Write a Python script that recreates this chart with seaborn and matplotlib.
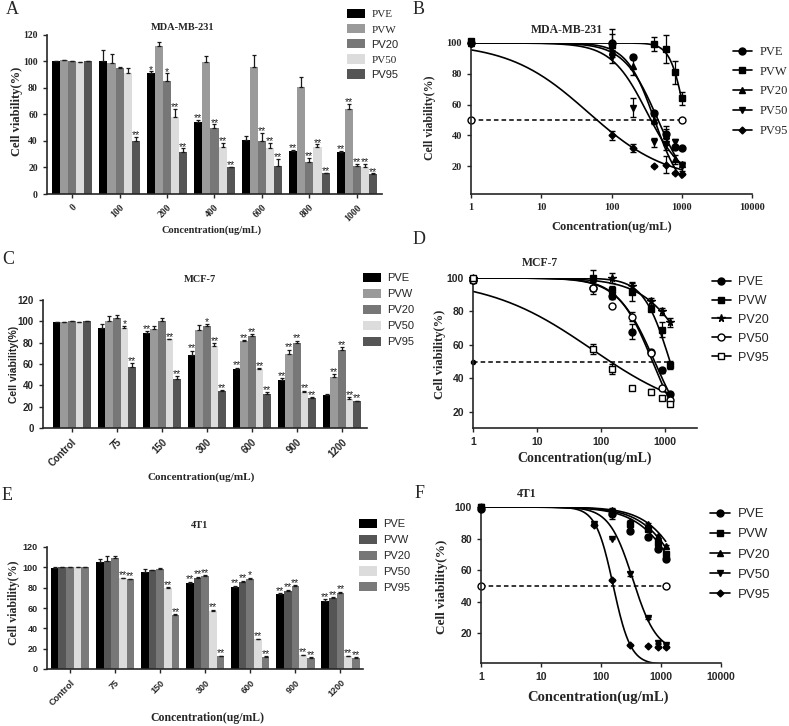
import numpy as np
import pandas as pd
import matplotlib
matplotlib.use("Agg")
import matplotlib.pyplot as plt
import seaborn as sns
from matplotlib.patches import Patch
from matplotlib.lines import Line2D
from matplotlib.ticker import NullLocator

SERIF = "Liberation Serif"
SANS = "Liberation Sans"

series = ["PVE", "PVW", "PV20", "PV50", "PV95"]

# ---------------- MDA-MB-231 (A, B) ----------------
mda_labels = ["0", "100", "200", "400", "600", "800", "1000"]
mda_dose = [1, 100, 200, 400, 600, 800, 1000]
mda_pve = [100, 100, 91, 54.5, 41, 32.5, 32]
mda_pvw = [101, 99, 112, 99.5, 96, 81, 64]
mda_pv20 = [100, 95, 85, 50, 40, 24.5, 21.5]
mda_pv50 = [99.5, 91, 58, 35.5, 34.5, 35.5, 20]
mda_pv95 = [100, 40, 32, 20, 21, 15.5, 15]
mda_pve_err = [0.5, 9, 1.5, 1.5, 3, 1, 0.3]
mda_pvw_err = [0.5, 7, 3, 4.5, 9, 7.5, 4]
mda_pv20_err = [0.3, 0.5, 6, 2.5, 6, 3, 1]
mda_pv50_err = [0.3, 4, 6, 3, 4, 2, 3]
mda_pv95_err = [0.3, 3, 2.5, 0.5, 5.5, 0.5, 0.5]
mda_pve_sig = ["", "", "*", "**", "", "**", "**"]
mda_pvw_sig = ["", "", "", "", "", "", "**"]
mda_pv20_sig = ["", "", "*", "**", "**", "**", "**"]
mda_pv50_sig = ["", "", "**", "**", "**", "**", "**"]
mda_pv95_sig = ["", "**", "**", "**", "**", "**", "**"]
# 4PL fit: top, bottom, IC50, hill
mda_fit_top = [100, 100, 100, 100, 100]
mda_fit_bottom = [0, 0, 0, 10, 10]
mda_fit_ic50 = [460, 1140, 410, 320, 46.5]
mda_fit_hill = [1.8, 4.1, 2.2, 1.7, 0.77]

# ---------------- MCF-7 (C, D) ----------------
mcf_labels = ["Control", "75", "150", "300", "600", "900", "1200"]
mcf_dose = [1, 75, 150, 300, 600, 900, 1200]
mcf_pve = [99, 94, 89, 68, 55.5, 45, 31]
mcf_pvw = [99, 100, 93, 91.5, 81.5, 69, 48]
mcf_pv20 = [100, 103, 100, 95.5, 86, 80, 73.5]
mcf_pv50 = [99, 94, 83, 77, 55, 34, 27]
mcf_pv95 = [100, 57.5, 45.5, 34.5, 32, 28.5, 25]
mcf_pve_err = [0.5, 3.5, 1.5, 4.5, 1, 1.5, 1]
mcf_pvw_err = [0.5, 5, 2.5, 5.5, 1, 4.5, 2.5]
mcf_pv20_err = [0.3, 3, 3, 2, 2, 2, 2.5]
mcf_pv50_err = [0.3, 1.5, 0.5, 2.5, 1, 1, 2]
mcf_pv95_err = [0.3, 3, 3, 1, 1.5, 0.5, 0.5]
mcf_pve_sig = ["", "", "**", "**", "**", "**", ""]
mcf_pvw_sig = ["", "", "", "", "**", "**", "**"]
mcf_pv20_sig = ["", "", "", "*", "**", "**", "**"]
mcf_pv50_sig = ["", "*", "**", "**", "**", "**", "**"]
mcf_pv95_sig = ["", "**", "**", "**", "**", "**", "**"]
mcf_fit_top = [100, 100, 100, 100, 100]
mcf_fit_bottom = [0, 0, 0, 0, 15]
mcf_fit_ic50 = [690, 1200, 2940, 640, 71.5]
mcf_fit_hill = [1.5, 2.1, 1.14, 1.6, 0.53]

# ---------------- 4T1 (E, F) ----------------
t41_labels = ["Control", "75", "150", "300", "600", "900", "1200"]
t41_dose = [1, 75, 150, 300, 600, 900, 1200]
t41_pve = [99, 105.5, 95.5, 85, 81, 73.5, 67]
t41_pvw = [100, 106.5, 97, 89.5, 86, 77, 70]
t41_pv20 = [100, 109, 98, 91, 89, 81.5, 75]
t41_pv50 = [100, 89.5, 80, 57.5, 29.5, 13.5, 12.5]
t41_pv95 = [100, 88.5, 53.5, 12.5, 12, 11, 11]
t41_pve_err = [1, 3, 3, 1, 1, 1, 1.5]
t41_pvw_err = [0.3, 5, 0.5, 1, 1, 1, 0.5]
t41_pv20_err = [0.3, 2, 1.5, 1, 1, 1, 1]
t41_pv50_err = [0.3, 0.5, 0.5, 1, 0.5, 0.5, 0.5]
t41_pv95_err = [0.3, 0.5, 0.5, 0.5, 0.5, 0.5, 0.5]
t41_pve_sig = ["", "", "", "**", "**", "**", "**"]
t41_pvw_sig = ["", "", "", "**", "**", "**", "**"]
t41_pv20_sig = ["", "", "", "**", "*", "**", "**"]
t41_pv50_sig = ["", "**", "**", "**", "**", "**", "**"]
t41_pv95_sig = ["", "**", "**", "**", "**", "**", "**"]
t41_fit_top = [100, 100, 100, 100, 100]
t41_fit_bottom = [0, 0, 0, 8, 0]
t41_fit_ic50 = [2500, 2800, 3200, 340, 160]
t41_fit_hill = [1.2, 1.25, 1.3, 2.2, 3.0]

half_level = 50

sns.set_style("ticks")
plt.rcParams["font.family"] = [SERIF, "DejaVu Sans"]
plt.rcParams["axes.linewidth"] = 1.2
plt.rcParams["xtick.major.width"] = 1.0
plt.rcParams["ytick.major.width"] = 1.0
plt.rcParams["xtick.major.size"] = 3
plt.rcParams["ytick.major.size"] = 3

W, H = 789, 726
fig = plt.figure(figsize=(W / 100, H / 100), dpi=100)


def px_axes(l, t, r, b):
    return fig.add_axes([l / W, 1 - b / H, (r - l) / W, (b - t) / H])


def ftext(x, y, s, **kw):
    fig.text(x / W, 1 - y / H, s, ha="center", va="center", **kw)


def bar_panel(ax, labels, means, errs, sigs, colors, xlim, tick_family, tick_size):
    rows = []
    for name, vals in zip(series, means):
        for lab, v in zip(labels, vals):
            rows.append({"conc": lab, "group": name, "value": v})
    df = pd.DataFrame(rows)
    sns.barplot(data=df, x="conc", y="value", hue="group", hue_order=series,
                palette=colors, width=0.85, errorbar=None, legend=False,
                saturation=1, linewidth=0, ax=ax)
    for cont, err, sig in zip(ax.containers, errs, sigs):
        xs = [b.get_x() + b.get_width() / 2 for b in cont]
        hs = [b.get_height() for b in cont]
        ax.errorbar(xs, hs, yerr=[np.zeros(len(hs)), err], fmt="none",
                    ecolor="#1a1a1a", elinewidth=0.9, capsize=1.6, capthick=0.9)
        for x, h, e, s in zip(xs, hs, err, sig):
            if s:
                ax.text(x, h + e - 2.5, s, ha="center", va="bottom",
                        fontsize=7.5, family=SANS, color="#222")
    ax.set_xlim(*xlim)
    ax.set_ylim(0, 120)
    ax.set_yticks(range(0, 121, 20))
    ax.set_xlabel("")
    ax.set_ylabel("")
    sns.despine(ax=ax)
    ax.tick_params(axis="x", length=3)
    for t in ax.get_xticklabels():
        t.set_rotation(45)
        t.set_ha("right")
        t.set_rotation_mode("anchor")
    for t in ax.get_xticklabels() + ax.get_yticklabels():
        t.set_family(tick_family)
        t.set_fontweight("bold")
        t.set_fontsize(tick_size)


def bar_legend(ax, colors, x, y, spacing, fams, size):
    handles = [Patch(facecolor=c, edgecolor="none") for c in colors]
    leg = ax.legend(handles, series, loc="upper left",
                    bbox_to_anchor=(x / W, 1 - y / H),
                    bbox_transform=fig.transFigure, frameon=False,
                    handlelength=1.6, handleheight=0.9, handletextpad=0.6,
                    labelspacing=spacing, borderpad=0, borderaxespad=0,
                    prop={"family": SANS, "size": size})
    for t, f in zip(leg.get_texts(), fams):
        t.set_family(f)


def curve_panel(ax, doses, means, errs, tops, bottoms, ic50s, hills, markers,
                xlim, ylim, yticks, tick_family, tick_size):
    xs = np.logspace(0, np.log10(doses[-1]), 300)
    rows = []
    for name, top, bot, c, h in zip(series, tops, bottoms, ic50s, hills):
        ys = bot + (top - bot) / (1 + (xs / c) ** h)
        rows.append(pd.DataFrame({"dose": xs, "viability": ys, "group": name}))
    cdf = pd.concat(rows)
    sns.lineplot(data=cdf, x="dose", y="viability", hue="group", hue_order=series,
                 palette=["black"] * 5, estimator=None, legend=False, lw=1.2, ax=ax)
    for vals, err, mk in zip(means, errs, markers):
        m, ms, fill = mk
        # points above the top of the axis are hidden, as in the original
        keep = [i for i, v in enumerate(vals) if v <= ylim[1] + 1]
        ax.errorbar([doses[i] for i in keep], [vals[i] for i in keep],
                    yerr=[err[i] for i in keep], fmt=m, ms=ms, color="black",
                    mfc="black" if fill else "white", mec="black", mew=1.0,
                    elinewidth=0.9, capsize=2, capthick=0.9, clip_on=False, zorder=3)
    ax.set_xscale("log")
    ax.set_xlim(*xlim)
    ax.set_ylim(*ylim)
    ticks = [t for t in [1, 10, 100, 1000, 10000] if t <= xlim[1]]
    ax.set_xticks(ticks)
    ax.set_xticklabels([str(t) for t in ticks])
    ax.xaxis.set_minor_locator(NullLocator())
    ax.set_yticks(yticks)
    ax.set_xlabel("")
    ax.set_ylabel("")
    sns.despine(ax=ax)
    for t in ax.get_xticklabels() + ax.get_yticklabels():
        t.set_family(tick_family)
        t.set_fontweight("bold")
        t.set_fontsize(tick_size)


def curve_legend(ax, markers, x, y, spacing, family, size):
    handles = [Line2D([0], [0], color="black", lw=1.2, marker=m, ms=ms,
                      mfc="black" if fill else "white", mec="black")
               for m, ms, fill in markers]
    ax.legend(handles, series, loc="upper left",
              bbox_to_anchor=(x / W, 1 - y / H), bbox_transform=fig.transFigure,
              frameon=False, handlelength=1.5, handletextpad=0.6,
              labelspacing=spacing, borderpad=0, borderaxespad=0,
              prop={"family": family, "size": size})


bold_serif = dict(family=SERIF, fontweight="bold")
bold_sans = dict(family=SANS, fontweight="bold")

colors_ac = ["#000000", "#9a9a9a", "#777777", "#dcdcdc", "#555555"]
colors_e = ["#000000", "#555555", "#777777", "#dcdcdc", "#7a7a7a"]

# ---- A ----
axA = px_axes(47, 35, 382, 194)
bar_panel(axA, mda_labels,
          [mda_pve, mda_pvw, mda_pv20, mda_pv50, mda_pv95],
          [mda_pve_err, mda_pvw_err, mda_pv20_err, mda_pv50_err, mda_pv95_err],
          [mda_pve_sig, mda_pvw_sig, mda_pv20_sig, mda_pv50_sig, mda_pv95_sig],
          colors_ac, (-0.53, 6.53), SERIF, 7)
bar_legend(axA, colors_ac, 347, 9, 0.42, [SERIF, SERIF, SANS, SERIF, SANS], 8)
ftext(183, 28, "MDA-MB-231", fontsize=7.5, **bold_serif)
ftext(17, 111, "Cell viability(%)", rotation=90, fontsize=9, **bold_serif)
ftext(212, 230, "Concentration(ug/mL)", fontsize=7.5, **bold_serif)
ftext(12, 9, "A", fontsize=13, family=SERIF)

# ---- B ----
curve_markers_b = [("o", 5, True), ("s", 5, True), ("^", 5, True), ("v", 5, True), ("D", 3.5, True)]
axB = px_axes(471, 43, 752, 194)
curve_panel(axB, mda_dose,
            [mda_pve, mda_pvw, mda_pv20, mda_pv50, mda_pv95],
            [mda_pve_err, mda_pvw_err, mda_pv20_err, mda_pv50_err, mda_pv95_err],
            mda_fit_top, mda_fit_bottom, mda_fit_ic50, mda_fit_hill,
            curve_markers_b, (1, 10000), (2, 100), [20, 40, 60, 80, 100],
            SERIF, 7.5)
axB.plot([mda_dose[0], mda_dose[-1]], [half_level, half_level], ls=(0, (3, 2)),
         color="black", lw=1.1, marker="o", ms=5, mfc="white", mec="black", clip_on=False)
curve_legend(axB, curve_markers_b, 733, 46, 0.62, SERIF, 9)
ftext(567, 30, "MDA-MB-231", fontsize=8.5, **bold_serif)
ftext(430, 118, "Cell viability(%)", rotation=90, fontsize=8.5, **bold_serif)
ftext(612, 227, "Concentration(ug/mL)", fontsize=9, **bold_serif)
ftext(419, 9, "B", fontsize=13, family=SERIF)

# ---- C ----
axC = px_axes(43, 300, 367, 428)
bar_panel(axC, mcf_labels,
          [mcf_pve, mcf_pvw, mcf_pv20, mcf_pv50, mcf_pv95],
          [mcf_pve_err, mcf_pvw_err, mcf_pv20_err, mcf_pv50_err, mcf_pv95_err],
          [mcf_pve_sig, mcf_pvw_sig, mcf_pv20_sig, mcf_pv50_sig, mcf_pv95_sig],
          colors_ac, (-0.64, 6.56), SANS, 7)
bar_legend(axC, colors_ac, 363, 273, 0.5, [SANS] * 5, 8)
ftext(200, 280, "MCF-7", fontsize=7.5, **bold_serif)
ftext(14, 364, "Cell viability(%)", rotation=90, fontsize=7.5, **bold_sans)
ftext(201, 477, "Concentration(ug/mL)", fontsize=8, **bold_serif)
ftext(8, 259, "C", fontsize=13, family=SERIF)

# ---- D ----
curve_markers_d = [("o", 5, True), ("s", 5, True), ("*", 5.5, True), ("o", 5, False), ("s", 5, False)]
axD = px_axes(473, 278, 697, 428)
curve_panel(axD, mcf_dose,
            [mcf_pve, mcf_pvw, mcf_pv20, mcf_pv50, mcf_pv95],
            [mcf_pve_err, mcf_pvw_err, mcf_pv20_err, mcf_pv50_err, mcf_pv95_err],
            mcf_fit_top, mcf_fit_bottom, mcf_fit_ic50, mcf_fit_hill,
            curve_markers_d, (1, 3160), (10.4, 100), [20, 40, 60, 80, 100],
            SANS, 7.5)
axD.plot([mcf_dose[0], mcf_dose[-1]], [half_level, half_level], ls=(0, (3, 2)),
         color="black", lw=1.1, zorder=1)
axD.plot([mcf_dose[0]], [half_level], marker="o", ms=3, color="black", clip_on=False)
curve_legend(axD, curve_markers_d, 712, 276, 0.55, SANS, 9)
ftext(540, 263, "MCF-7", fontsize=8.5, **bold_serif)
ftext(440, 354, "Cell viability(%)", rotation=90, fontsize=9, **bold_serif)
ftext(585, 458, "Concentration(ug/mL)", fontsize=10, **bold_serif)
ftext(419, 240, "D", fontsize=13, family=SERIF)

# ---- E ----
axE = px_axes(47, 547, 363, 669)
bar_panel(axE, t41_labels,
          [t41_pve, t41_pvw, t41_pv20, t41_pv50, t41_pv95],
          [t41_pve_err, t41_pvw_err, t41_pv20_err, t41_pv50_err, t41_pv95_err],
          [t41_pve_sig, t41_pvw_sig, t41_pv20_sig, t41_pv50_sig, t41_pv95_sig],
          colors_e, (-0.51, 6.5), SANS, 6.5)
bar_legend(axE, colors_e, 359, 519, 0.48, [SANS] * 5, 8)
ftext(200, 525, "4T1", fontsize=7.5, **bold_serif)
ftext(14, 603, "Cell viability(%)", rotation=90, fontsize=8.5, **bold_serif)
ftext(207, 718, "Concentration(ug/mL)", fontsize=8.5, **bold_serif)
ftext(7, 496, "E", fontsize=13, family=SERIF)

# ---- F ----
curve_markers_f = [("o", 5, True), ("s", 5, True), ("^", 5, True), ("v", 5, True), ("D", 3.5, True)]
axF = px_axes(481, 507, 721, 663)
curve_panel(axF, t41_dose,
            [t41_pve, t41_pvw, t41_pv20, t41_pv50, t41_pv95],
            [t41_pve_err, t41_pvw_err, t41_pv20_err, t41_pv50_err, t41_pv95_err],
            t41_fit_top, t41_fit_bottom, t41_fit_ic50, t41_fit_hill,
            curve_markers_f, (1, 10000), (1, 100), [20, 40, 60, 80, 100],
            SANS, 7.5)
axF.plot([t41_dose[0], t41_dose[-1]], [half_level, half_level], ls=(0, (3, 2)),
         color="black", lw=1.1, marker="o", ms=5, mfc="white", mec="black", clip_on=False)
curve_legend(axF, curve_markers_f, 710, 508, 0.6, SANS, 9.5)
ftext(527, 494, "4T1", fontsize=8.5, **bold_serif)
ftext(442, 587, "Cell viability(%)", rotation=90, fontsize=9.5, **bold_serif)
ftext(598, 697, "Concentration(ug/mL)", fontsize=10.5, **bold_serif)
ftext(420, 494, "F", fontsize=13, family=SERIF)

fig.savefig("out.png", dpi=100, facecolor="white")
